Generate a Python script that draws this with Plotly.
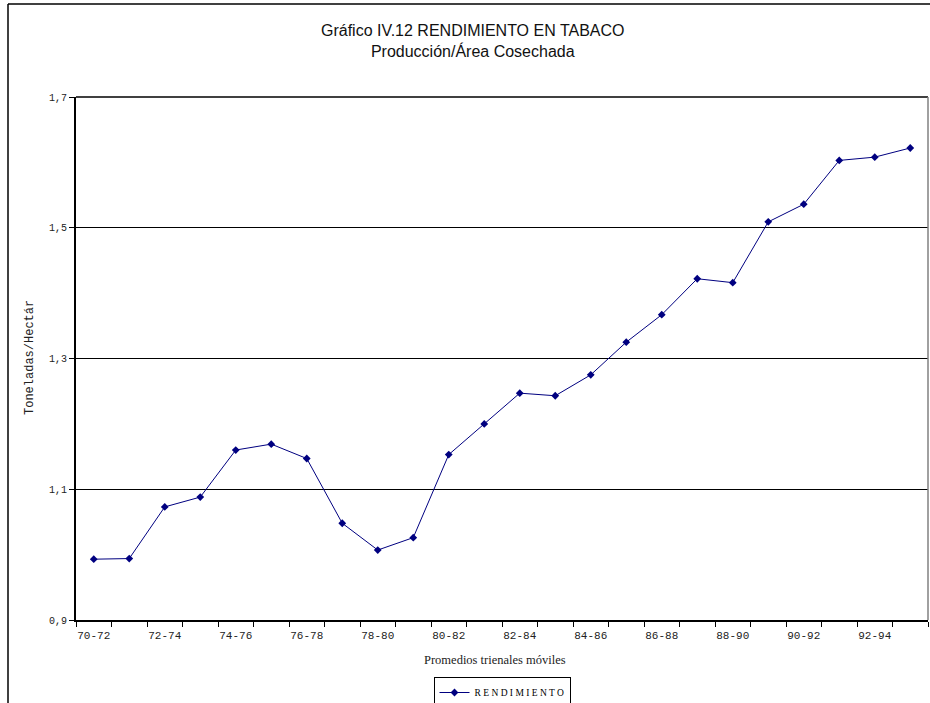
import plotly.graph_objects as go

categories = ["70-72", "71-73", "72-74", "73-75", "74-76", "75-77", "76-78", "77-79",
              "78-80", "79-81", "80-82", "81-83", "82-84", "83-85", "84-86", "85-87",
              "86-88", "87-89", "88-90", "89-91", "90-92", "91-93", "92-94", "93-95"]
rendimiento = [0.993, 0.994, 1.073, 1.088, 1.160, 1.169, 1.147, 1.048, 1.007, 1.026,
               1.153, 1.200, 1.247, 1.243, 1.275, 1.325, 1.367, 1.422, 1.416, 1.509,
               1.536, 1.603, 1.608, 1.622]
tick_labels = [c if i % 2 == 0 else "" for i, c in enumerate(categories)]
y_ticks = [0.9, 1.1, 1.3, 1.5, 1.7]

navy = "#000080"
fig = go.Figure()
fig.add_trace(go.Scatter(
    x=categories, y=rendimiento, mode="lines+markers", name="R E N D I M I E N T O",
    line=dict(color=navy, width=1),
    marker=dict(symbol="diamond", size=6, color=navy),
))

mono = "Liberation Mono"
W, H = 930, 703
L, R, T, B = 76, 2, 97, 83
pw, ph = W - L - R, H - T - B


def px(x):
    return (x - L) / pw


def py(y):
    return (H - B - y) / ph


fig.update_layout(
    width=W, height=H,
    margin=dict(l=L, r=R, t=T, b=B, autoexpand=False),
    paper_bgcolor="white", plot_bgcolor="white",
    separators=",.",
    showlegend=True,
    legend=dict(x=px(502), xanchor="center", y=py(677), yanchor="top",
                orientation="h", bordercolor="black", borderwidth=1,
                font=dict(family="Liberation Serif", size=9.5, color="black"),
                itemwidth=30, tracegroupgap=0),
    xaxis=dict(
        type="category", tickmode="array", tickvals=categories, ticktext=tick_labels,
        tickson="boundaries", ticks="outside", ticklen=5, tickcolor="black",
        showline=True, linecolor="black", linewidth=2, showgrid=False,
        tickfont=dict(family=mono, size=11, color="#222"), ticklabelstandoff=4,
        range=[-0.5, len(categories) - 0.5], tickangle=0, automargin=False,
    ),
    yaxis=dict(
        range=[0.9, 1.7], tickvals=y_ticks, tickformat=".1f",
        ticks="outside", ticklen=5, tickcolor="black",
        showline=True, linecolor="black", linewidth=2,
        showgrid=True, gridcolor="black", gridwidth=1,
        tickfont=dict(family=mono, size=10, color="#222"),
        zeroline=False, automargin=False,
    ),
    annotations=[
        dict(text="Gráfico IV.12 RENDIMIENTO EN TABACO<br>Producción/Área Cosechada",
             xref="paper", yref="paper", x=px(473), y=py(41),
             xanchor="center", yanchor="middle", showarrow=False,
             font=dict(family="Liberation Sans", size=16, color="#111")),
        dict(text="Promedios trienales móviles", xref="paper", yref="paper",
             x=px(495), y=py(660), xanchor="center", yanchor="middle",
             showarrow=False, font=dict(family="Liberation Serif", size=12.5, color="#222")),
        dict(text="Toneladas/Hectár", xref="paper", yref="paper",
             x=px(30), y=py(358), xanchor="center", yanchor="middle",
             textangle=-90, showarrow=False,
             font=dict(family=mono, size=12, color="#222")),
    ],
    shapes=[
        dict(type="line", xref="paper", yref="paper", x0=0, x1=1, y0=1, y1=1,
             line=dict(color="black", width=1.5)),
        dict(type="line", xref="paper", yref="paper", x0=1, x1=1, y0=0, y1=1,
             line=dict(color="#808080", width=1.5)),
        dict(type="line", xref="paper", yref="paper", x0=px(8), x1=px(8),
             y0=py(4), y1=py(710), line=dict(color="black", width=1.5)),
        dict(type="line", xref="paper", yref="paper", x0=px(8), x1=px(935),
             y0=py(4), y1=py(4), line=dict(color="black", width=1.5)),
    ],
)

fig.write_html("out.html", config={"displayModeBar": False},
               post_script="document.body.style.margin='0';")
